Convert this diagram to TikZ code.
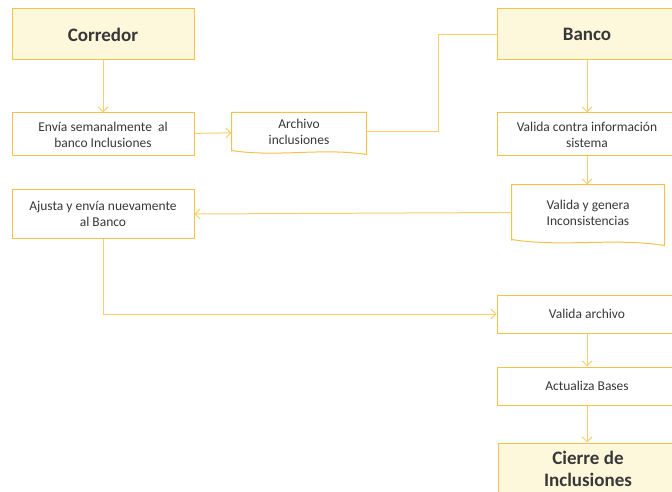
\documentclass[tikz,border=0pt]{standalone}
\usepackage{fontspec}
\setmainfont{Carlito}
\usetikzlibrary{arrows.meta}
\definecolor{borde}{HTML}{F4C24C}
\definecolor{linea}{HTML}{F6D070}
\definecolor{crema}{HTML}{FDF8DB}
\definecolor{texto}{HTML}{383838}
\tikzset{
  caja/.style={draw=borde, line width=1pt, fill=white, minimum width=180pt,
    minimum height=43pt, inner sep=2pt, align=center, text=texto,
    font=\fontsize{13.5}{16}\selectfont},
  titulo/.style={caja, fill=crema, minimum height=51pt,
    font=\fontsize{19}{22}\selectfont\bfseries},
  docu/.style={caja, draw=none, fill=none},
  onda/.style={draw=borde, line width=1pt},
  flecha/.style={draw=linea, line width=1pt, -{Straight Barb[length=5pt,width=10pt]}},
}
\begin{document}
\begin{tikzpicture}[x=1pt,y=-1pt]
        \path[use as bounding box, clip] (0,0) rectangle (672,492);
        \fill [white] (0,0) rectangle (672,492);
        % columna del corredor
        \node[titulo, minimum width=182pt] (corredor) at (103,34.5) {Corredor};
        \node[caja, minimum width=182pt] (envia) at (103,134.5) {Envía semanalmente\ \ al\\banco Inclusiones};
        \node[caja, minimum width=182pt, minimum height=49pt] (ajusta) at (103,214) {Ajusta y envía nuevamente\\al Banco};
        % documentos
        \node[docu, minimum width=134pt, minimum height=38pt] (archivo) at (299,132) {Archivo\\inclusiones};
        \draw[onda] (archivo.south west) -- (archivo.north west) -- (archivo.north east)
            -- ([yshift=-3pt]archivo.south east)
            .. controls +(-45,-7) and +(45,7) .. ([yshift=1pt]archivo.south west) -- cycle;
        \node[docu, minimum width=152pt, minimum height=55pt] (validagen) at (588,212.5) {Valida y genera\\Inconsistencias};
        \draw[onda] (validagen.south west) -- (validagen.north west) -- (validagen.north east)
            -- ([yshift=-5pt]validagen.south east)
            .. controls +(-50,-8) and +(50,8) .. ([yshift=1pt]validagen.south west) -- cycle;
        % columna del banco
        \node[titulo] (banco) at (587,34.5) {Banco};
        \node[caja] (validasis) at (587,134.5) {Valida contra información\\sistema};
        \node[caja, minimum height=38pt] (validaarch) at (587,314) {Valida archivo};
        \node[caja, minimum height=38pt] (actualiza) at (587,386) {Actualiza Bases};
        \node[titulo, minimum height=52pt] (cierre) at (588,469) {Cierre de\\Inclusiones};
        % conectores
        \draw[flecha] (corredor) -- (envia);
        \draw[flecha] (envia) -- (archivo);
        \draw[draw=linea, line width=1pt] (archivo.east) -- ++(72,0) |- (banco.west);
        \draw[flecha] (banco) -- (validasis);
        \draw[flecha] (validasis.south) -- (validasis.south |- validagen.north);
        \draw[flecha] (validagen.west) -- (ajusta.east);
        \draw[flecha] (ajusta.south) |- (validaarch.west);
        \draw[flecha] (validaarch) -- (actualiza);
        \draw[flecha] (actualiza) -- (actualiza.south |- cierre.north);
\end{tikzpicture}
\end{document}
